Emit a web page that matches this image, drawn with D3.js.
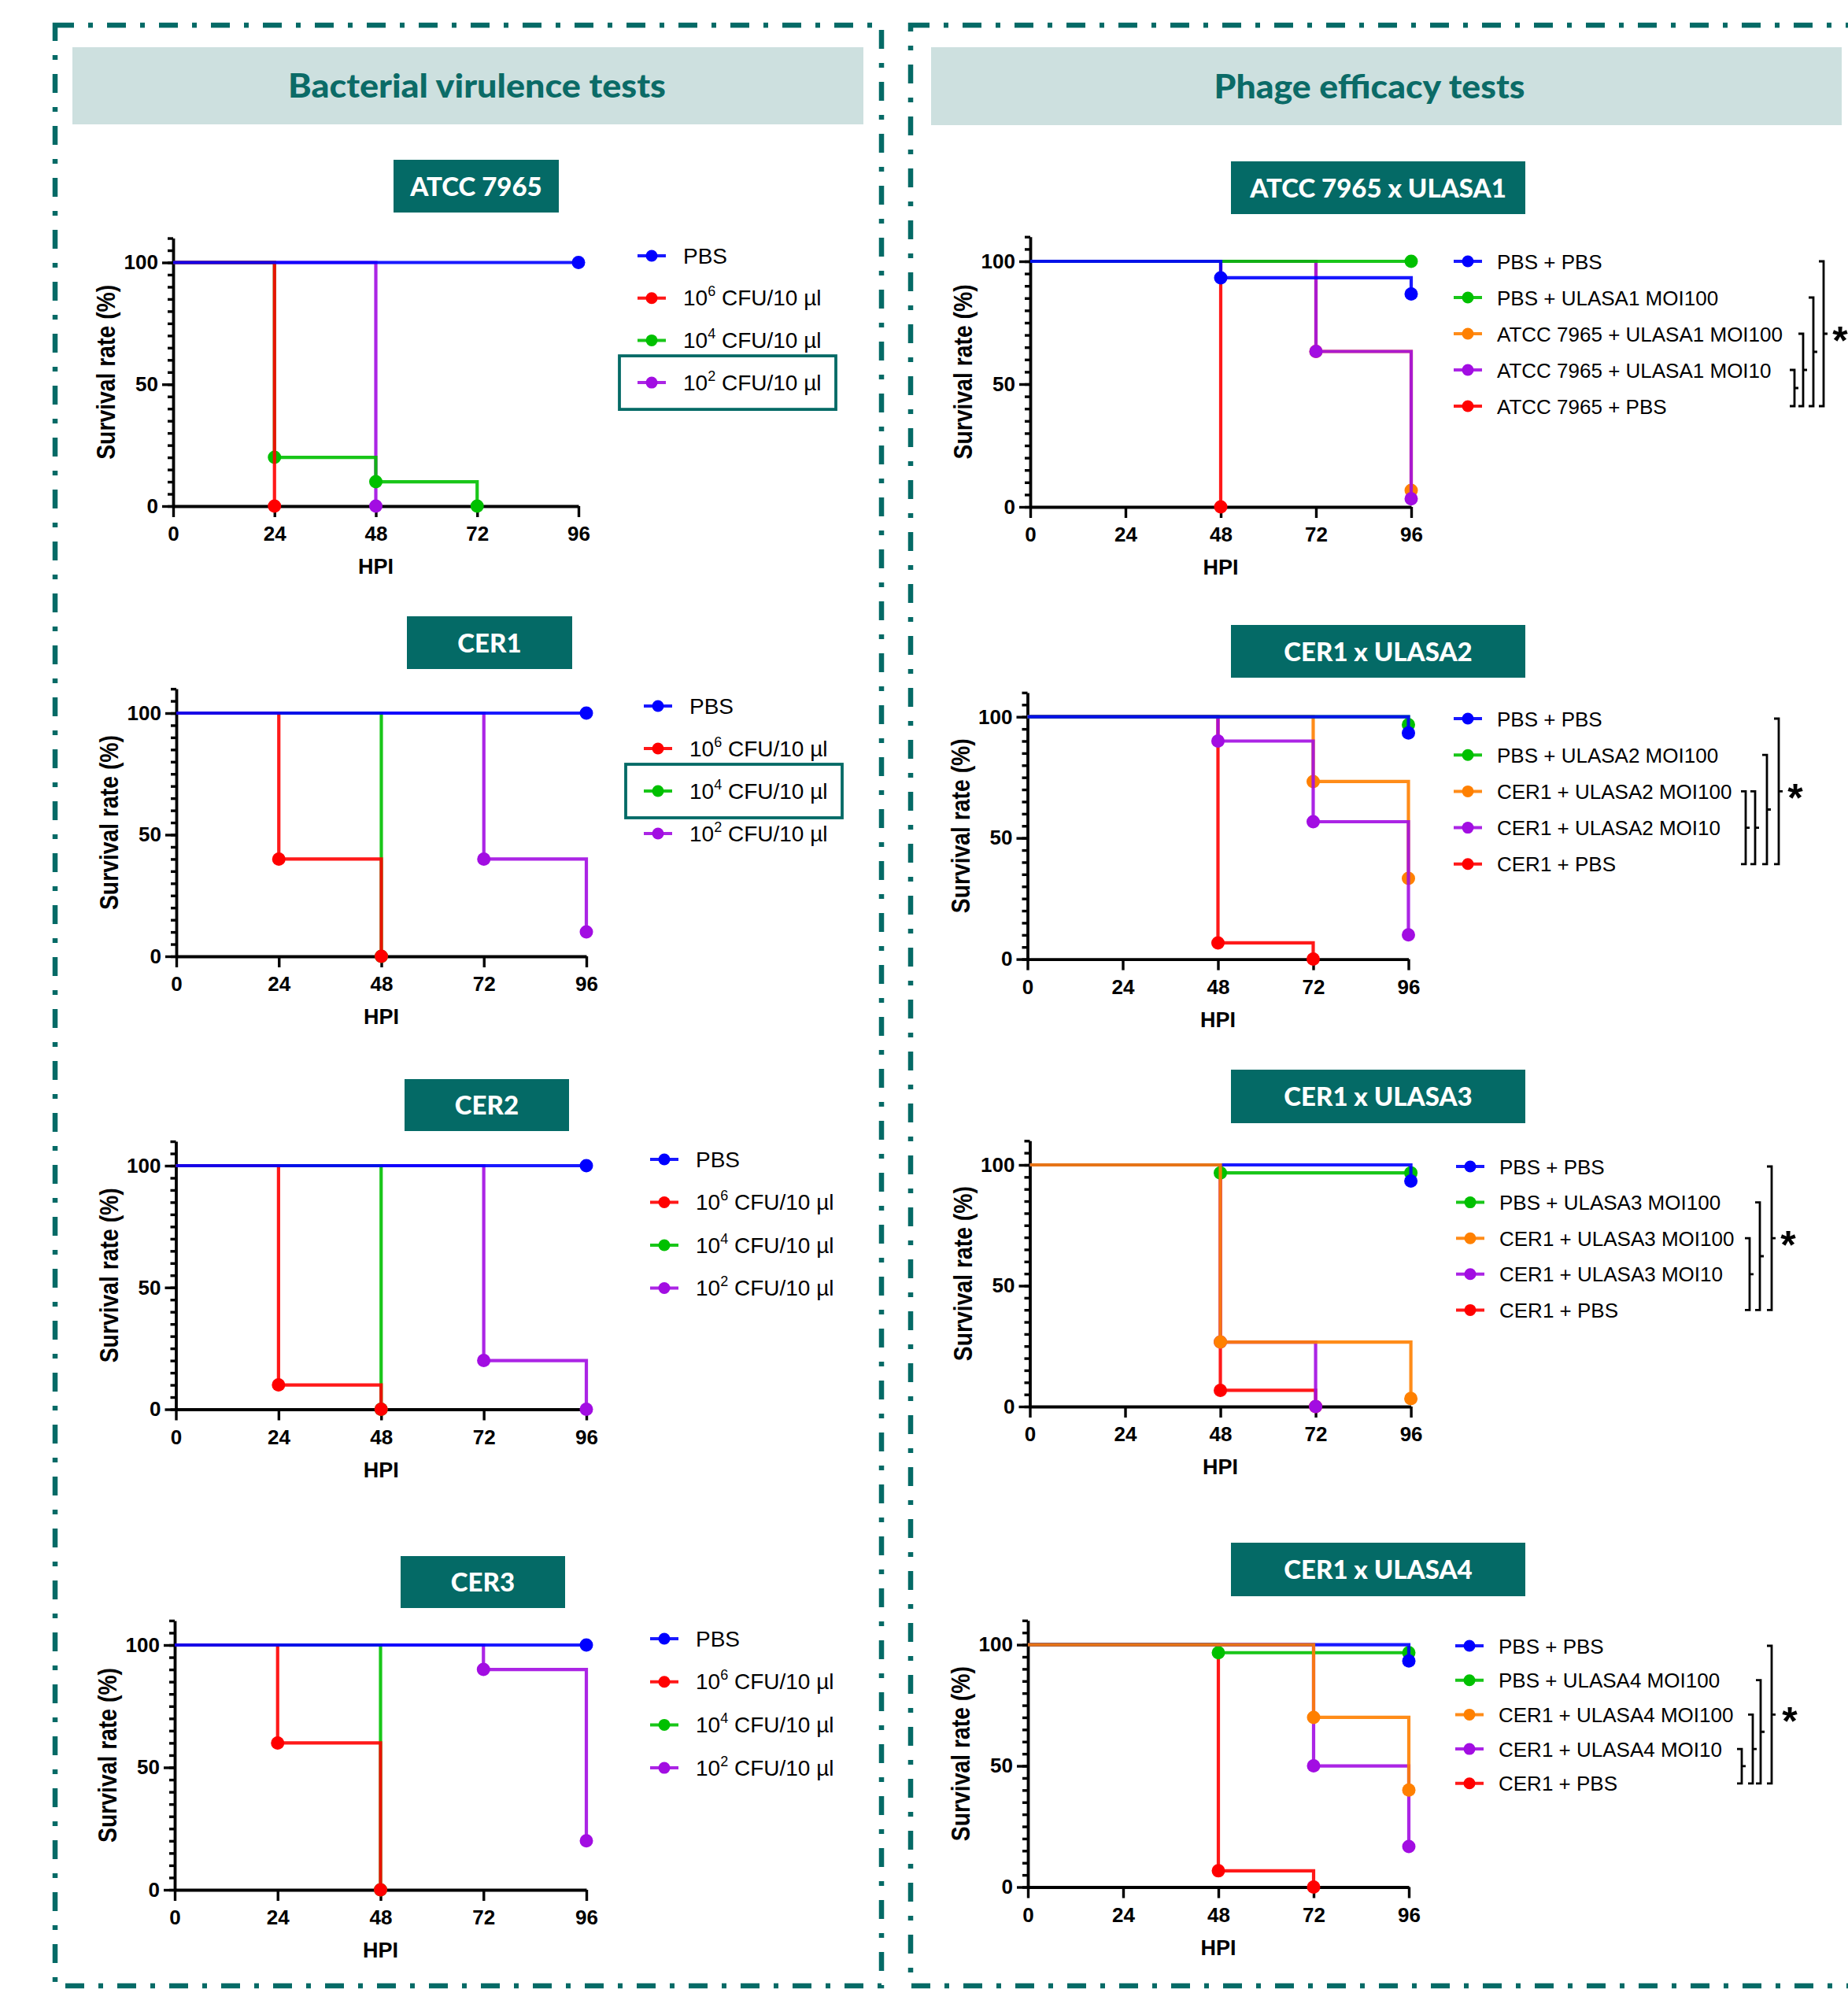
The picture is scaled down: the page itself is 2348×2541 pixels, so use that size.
<!DOCTYPE html>
<html>
<head>
<meta charset="utf-8">
<script src="https://cdn.jsdelivr.net/npm/d3@7"></script>
<style>
  body { margin: 0; background: #fff; }
  svg { display: block; }
</style>
</head>
<body>
<script>
// ---- axis values ----
var hpiTicks = [0, 24, 48, 72, 96];
var survivalTicks = [0, 50, 100];

// ---- bacterial virulence tests (left) ----
var virulenceTitles = ["ATCC 7965", "CER1", "CER2", "CER3"];
var virulenceLabels = [["PBS"], ["10", "6", " CFU/10 µl"], ["10", "4", " CFU/10 µl"], ["10", "2", " CFU/10 µl"]];
var virulenceColors = ["#0000ff", "#ff0000", "#00c000", "#a20de2"];
// [HPI, survival %] at each step
var atccVirulence = [
  [[0, 100], [96, 100]],
  [[0, 100], [24, 0]],
  [[0, 100], [24, 20], [48, 10], [72, 0]],
  [[0, 100], [48, 0]]
];
var cer1Virulence = [
  [[0, 100], [96, 100]],
  [[0, 100], [24, 40], [48, 0]],
  [[0, 100], [48, 0]],
  [[0, 100], [72, 40], [96, 10]]
];
var cer2Virulence = [
  [[0, 100], [96, 100]],
  [[0, 100], [24, 10], [48, 0]],
  [[0, 100], [48, 0]],
  [[0, 100], [72, 20], [96, 0]]
];
var cer3Virulence = [
  [[0, 100], [96, 100]],
  [[0, 100], [24, 60], [48, 0]],
  [[0, 100], [48, 0]],
  [[0, 100], [72, 90], [96, 20]]
];

// ---- phage efficacy tests (right) ----
var phageTitles = ["ATCC 7965 x ULASA1", "CER1 x ULASA2", "CER1 x ULASA3", "CER1 x ULASA4"];
var ulasa1Labels = ["PBS + PBS", "PBS + ULASA1 MOI100", "ATCC 7965 + ULASA1 MOI100", "ATCC 7965 + ULASA1 MOI10", "ATCC 7965 + PBS"];
var ulasa2Labels = ["PBS + PBS", "PBS + ULASA2 MOI100", "CER1 + ULASA2 MOI100", "CER1 + ULASA2 MOI10", "CER1 + PBS"];
var ulasa3Labels = ["PBS + PBS", "PBS + ULASA3 MOI100", "CER1 + ULASA3 MOI100", "CER1 + ULASA3 MOI10", "CER1 + PBS"];
var ulasa4Labels = ["PBS + PBS", "PBS + ULASA4 MOI100", "CER1 + ULASA4 MOI100", "CER1 + ULASA4 MOI10", "CER1 + PBS"];
var phageColors = ["#0000ff", "#00c000", "#ff8000", "#a20de2", "#ff0000"];
var ulasa1Survival = [
  [[0, 100], [48, 93.3], [96, 86.7]],
  [[0, 100], [96, 100]],
  [[0, 100], [72, 63.3], [96, 6.7]],
  [[0, 100], [72, 63.3], [96, 3.3]],
  [[0, 100], [48, 0]]
];
var ulasa2Survival = [
  [[0, 100], [96, 93.3]],
  [[0, 100], [96, 96.7]],
  [[0, 100], [72, 73.3], [96, 33.3]],
  [[0, 100], [48, 90], [72, 56.7], [96, 10]],
  [[0, 100], [48, 6.7], [72, 0]]
];
var ulasa3Survival = [
  [[0, 100], [96, 93.3]],
  [[0, 100], [48, 96.7], [96, 96.7]],
  [[0, 100], [48, 26.7], [96, 3.3]],
  [[0, 100], [48, 26.7], [72, 0]],
  [[0, 100], [48, 6.7], [72, 0]]
];
var ulasa4Survival = [
  [[0, 100], [96, 93.3]],
  [[0, 100], [48, 96.7], [96, 96.7]],
  [[0, 100], [72, 70], [96, 40]],
  [[0, 100], [72, 50], [96, 16.7]],
  [[0, 100], [48, 6.7], [72, 0]]
];
// log-rank comparisons drawn as brackets (legend row pairs), all "*"
var ulasa1Pairs = [[3, 4], [2, 4], [1, 4], [0, 4]];
var ulasa2Pairs = [[2, 4], [2, 4], [1, 4], [0, 4]];
var ulasa3Pairs = [[2, 4], [1, 4], [0, 4]];
var ulasa4Pairs = [[3, 4], [2, 4], [1, 4], [0, 4]];

/* ---- page ---- */
var width = 2348, height = 2541;
var teal = "#046a66";
var font = "'Liberation Sans', Arial, sans-serif";
var titleFont = "Lato, 'Open Sans', sans-serif";

var svg = d3.select("body").append("svg")
  .attr("width", width)
  .attr("height", height);

svg.append("rect").attr("width", width).attr("height", height).attr("fill", "#fff");

// dash-dot frames
[[70, 32, 1120, 2523], [1157, 32, 2366, 2523]].forEach(function (f) {
  svg.append("rect")
    .attr("x", f[0]).attr("y", f[1])
    .attr("width", f[2] - f[0]).attr("height", f[3] - f[1])
    .attr("fill", "none")
    .attr("stroke", teal)
    .attr("stroke-width", 6.5)
    .attr("stroke-dasharray", "24,18,6,18");
});

// section headers
var headers = [
  {x0: 92, x1: 1097, y0: 60, y1: 158, tx: 606, text: "Bacterial virulence tests", len: 480},
  {x0: 1183, x1: 2340, y0: 60, y1: 159, tx: 1740, text: "Phage efficacy tests", len: 395}
];
headers.forEach(function (h) {
  svg.append("rect")
    .attr("x", h.x0).attr("y", h.y0)
    .attr("width", h.x1 - h.x0).attr("height", h.y1 - h.y0)
    .attr("fill", "#cde0df");
  svg.append("text")
    .attr("x", h.tx).attr("y", (h.y0 + h.y1) / 2 + 15)
    .attr("text-anchor", "middle")
    .attr("font-family", titleFont)
    .attr("font-weight", "900")
    .attr("font-size", 42)
    .attr("textLength", h.len)
    .attr("lengthAdjust", "spacingAndGlyphs")
    .attr("fill", "#0b6b67")
    .text(h.text);
});

function drawPlot(c) {
  var g = svg.append("g");
  var unit = (c.ax.yZero - c.ax.y100) / 100;
  var x = d3.scaleLinear().domain([0, 96]).range([c.ax.x0, c.ax.x1]);
  var y = d3.scaleLinear().domain([0, 110]).range([c.ax.yZero, c.ax.yZero - 110 * unit]);

  // title box
  g.append("rect")
    .attr("x", c.box[0]).attr("y", c.box[1])
    .attr("width", c.box[2] - c.box[0]).attr("height", c.box[3] - c.box[1])
    .attr("fill", teal);
  g.append("text")
    .attr("x", (c.box[0] + c.box[2]) / 2)
    .attr("y", (c.box[1] + c.box[3]) / 2 + 12)
    .attr("text-anchor", "middle")
    .attr("font-family", titleFont)
    .attr("font-weight", "900")
    .attr("font-size", 33)
    .attr("fill", "#fff")
    .text(c.title);

  // y axis: minor ticks every 5, labelled ticks at 0/50/100
  g.append("g")
    .attr("transform", "translate(" + c.ax.x0 + ",0)")
    .call(d3.axisLeft(y).tickValues(d3.range(0, 111, 5)).tickSize(7).tickSizeOuter(0).tickFormat(""))
    .call(function (a) { a.select(".domain").remove(); });
  var yAxis = g.append("g")
    .attr("transform", "translate(" + c.ax.x0 + ",0)")
    .call(d3.axisLeft(y).tickValues(survivalTicks).tickSize(14).tickSizeOuter(0).tickPadding(5));
  var xAxis = g.append("g")
    .attr("transform", "translate(0," + c.ax.yZero + ")")
    .call(d3.axisBottom(x).tickValues(hpiTicks).tickSize(14).tickSizeOuter(0).tickPadding(12));

  g.selectAll(".tick line").attr("stroke", "#000").attr("stroke-width", 3.4);
  [yAxis, xAxis].forEach(function (a) {
    a.select(".domain").attr("stroke", "#000").attr("stroke-width", 3.8);
    a.selectAll("text")
      .attr("font-family", font)
      .attr("font-weight", "bold")
      .attr("font-size", 26)
      .attr("fill", "#000");
  });

  // axis titles
  g.append("text")
    .attr("transform", "translate(" + (c.ax.x0 - 74) + "," + y(55) + ") rotate(-90)")
    .attr("text-anchor", "middle")
    .attr("font-family", font)
    .attr("font-weight", "bold")
    .attr("font-size", 33)
    .attr("textLength", 222)
    .attr("lengthAdjust", "spacingAndGlyphs")
    .text("Survival rate (%)");
  g.append("text")
    .attr("x", x(48))
    .attr("y", c.ax.yZero + 86)
    .attr("text-anchor", "middle")
    .attr("font-family", font)
    .attr("font-weight", "bold")
    .attr("font-size", 27)
    .text("HPI");

  // survival curves (Kaplan-Meier steps)
  var line = d3.line()
    .x(function (d) { return x(d[0]); })
    .y(function (d) { return y(d[1]); })
    .curve(d3.curveStepAfter);

  c.order.forEach(function (i) {
    var s = g.append("g");
    s.append("path")
      .datum(c.data[i])
      .attr("d", line)
      .attr("fill", "none")
      .attr("stroke", c.colors[i])
      .attr("stroke-opacity", 0.9)
      .attr("stroke-width", 4.2);
    s.selectAll("circle")
      .data(c.data[i].slice(1))
      .enter()
      .append("circle")
      .attr("cx", function (d) { return x(d[0]); })
      .attr("cy", function (d) { return y(d[1]); })
      .attr("r", 8.5)
      .attr("fill", c.colors[i]);
  });

  // legend
  var rows = c.labels.map(function (l, i) { return c.leg.top + i * c.leg.step; });
  c.labels.forEach(function (l, i) {
    var ly = rows[i];
    g.append("line")
      .attr("x1", c.leg.mx - 18).attr("x2", c.leg.mx + 18)
      .attr("y1", ly).attr("y2", ly)
      .attr("stroke", c.colors[i]).attr("stroke-opacity", 0.9).attr("stroke-width", 4);
    g.append("circle").attr("cx", c.leg.mx).attr("cy", ly).attr("r", 7.5).attr("fill", c.colors[i]);
    var t = g.append("text")
      .attr("x", c.leg.tx).attr("y", ly + 9.5)
      .attr("font-family", font)
      .attr("font-size", c.leg.size)
      .attr("fill", "#000");
    if (typeof l === "string") {
      t.text(l);
    } else {
      t.append("tspan").text(l[0]);
      if (l.length > 1) {
        t.append("tspan").attr("dy", -12).attr("font-size", 18).text(l[1]);
        t.append("tspan").attr("dy", 12).text(l[2]);
      }
    }
  });
  if (c.highlight != null) {
    var hy = rows[c.highlight];
    g.append("rect")
      .attr("x", c.leg.mx - 41).attr("y", hy - 34)
      .attr("width", 275).attr("height", 68)
      .attr("fill", "none")
      .attr("stroke", teal)
      .attr("stroke-width", 3.8);
  }

  // significance brackets
  if (c.pairs) {
    c.pairs.forEach(function (p, k) {
      var bx = c.bx[k], top = rows[p[0]], bot = rows[p[1]], mid = (top + bot) / 2;
      g.append("path")
        .attr("d", "M" + (bx - 6) + "," + top + "H" + bx + "V" + bot + "H" + (bx - 6) +
          "M" + bx + "," + mid + "H" + (bx + 5))
        .attr("fill", "none")
        .attr("stroke", "#000")
        .attr("stroke-width", 2.8);
    });
    var outer = c.pairs[c.pairs.length - 1];
    g.append("text")
      .attr("x", c.starX)
      .attr("y", (rows[outer[0]] + rows[outer[1]]) / 2 + 26)
      .attr("text-anchor", "middle")
      .attr("font-family", font)
      .attr("font-weight", "bold")
      .attr("font-size", 50)
      .text("*");
  }
}

var leftOrder = [3, 2, 1, 0];
var leftLegend = function (top, step, mx) {
  return {mx: mx, tx: mx + 40, top: top, step: step, size: 28};
};

drawPlot({title: virulenceTitles[0], box: [500, 203, 710, 270],
  ax: {x0: 220, x1: 735, yZero: 643, y100: 333.5},
  data: atccVirulence, colors: virulenceColors, labels: virulenceLabels, order: leftOrder,
  leg: leftLegend(325, 53.7, 828), highlight: 3});
drawPlot({title: virulenceTitles[1], box: [517, 783, 727, 850],
  ax: {x0: 224, x1: 745, yZero: 1215, y100: 906},
  data: cer1Virulence, colors: virulenceColors, labels: virulenceLabels, order: leftOrder,
  leg: leftLegend(897, 54, 836), highlight: 2});
drawPlot({title: virulenceTitles[2], box: [514, 1371, 723, 1437],
  ax: {x0: 223.5, x1: 745, yZero: 1790.5, y100: 1481},
  data: cer2Virulence, colors: virulenceColors, labels: virulenceLabels, order: leftOrder,
  leg: leftLegend(1473, 54.5, 844)});
drawPlot({title: virulenceTitles[3], box: [509, 1977, 718, 2043],
  ax: {x0: 222, x1: 745, yZero: 2401, y100: 2090},
  data: cer3Virulence, colors: virulenceColors, labels: virulenceLabels, order: leftOrder,
  leg: leftLegend(2082, 54.7, 844)});

var rightLegend = function (top, step, mx) {
  return {mx: mx, tx: mx + 37, top: top, step: step, size: 26};
};

drawPlot({title: phageTitles[0], box: [1564, 205, 1938, 272],
  ax: {x0: 1309, x1: 1793, yZero: 644, y100: 332},
  data: ulasa1Survival, colors: phageColors, labels: ulasa1Labels, order: [4, 2, 3, 1, 0],
  leg: rightLegend(332, 46, 1865),
  pairs: ulasa1Pairs, bx: [2280, 2291, 2304, 2317], starX: 2338});
drawPlot({title: phageTitles[1], box: [1564, 794, 1938, 861],
  ax: {x0: 1305.5, x1: 1789.5, yZero: 1218.6, y100: 910.7},
  data: ulasa2Survival, colors: phageColors, labels: ulasa2Labels, order: [4, 2, 3, 1, 0],
  leg: rightLegend(913, 46.2, 1865),
  pairs: ulasa2Pairs, bx: [2218, 2230, 2245, 2260], starX: 2281});
drawPlot({title: phageTitles[2], box: [1564, 1359, 1938, 1427],
  ax: {x0: 1308.5, x1: 1792.6, yZero: 1787, y100: 1480},
  data: ulasa3Survival, colors: phageColors, labels: ulasa3Labels, order: [4, 3, 1, 0, 2],
  leg: rightLegend(1482, 45.6, 1868),
  pairs: ulasa3Pairs, bx: [2223, 2236, 2251], starX: 2272});
drawPlot({title: phageTitles[3], box: [1564, 1960, 1938, 2028],
  ax: {x0: 1306, x1: 1790, yZero: 2397.5, y100: 2089.6},
  data: ulasa4Survival, colors: phageColors, labels: ulasa4Labels, order: [4, 3, 1, 0, 2],
  leg: rightLegend(2091, 43.7, 1867),
  pairs: ulasa4Pairs, bx: [2213, 2227, 2237, 2251], starX: 2274});
</script>
</body>
</html>
